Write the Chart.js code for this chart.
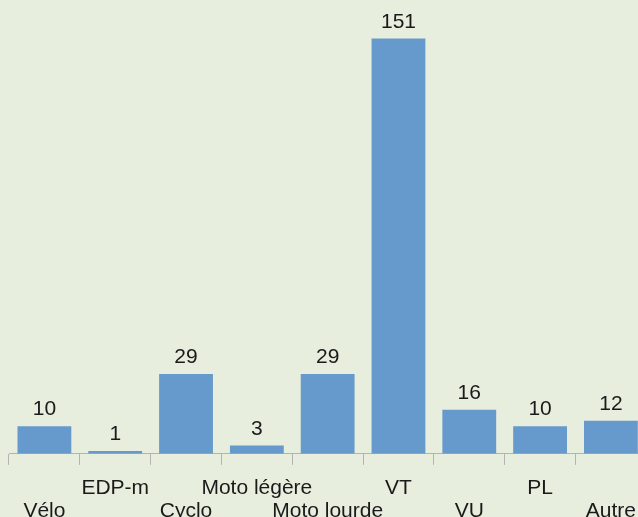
<!DOCTYPE html>
<html>
<head>
<meta charset="utf-8">
<script src="https://cdn.jsdelivr.net/npm/chart.js@4"></script>
<style>
  html, body { margin: 0; padding: 0; overflow: hidden; background: #e8eede; }
  #wrap { position: absolute; left: 0; top: 0; width: 648px; height: 535px; }
</style>
</head>
<body>
<div id="wrap"><canvas id="barChart"></canvas></div>
<script>
const categories = ['Vélo', 'EDP-m', 'Cyclo', 'Moto légère', 'Moto lourde', 'VT', 'VU', 'PL', 'Autre'];
const counts = [10, 1, 29, 3, 29, 151, 16, 10, 12];

// every other label goes on the second line, like the original
const tickLabels = categories.map((c, i) => i % 2 === 0 ? ['', c] : c);

const valueLabels = {
    id: 'valueLabels',
    afterDatasetsDraw(chart) {
        const ctx = chart.ctx;
        const meta = chart.getDatasetMeta(0);
        ctx.save();
        ctx.font = '21px "Liberation Sans", Arial, sans-serif';
        ctx.fillStyle = '#1a1a1a';
        ctx.textAlign = 'center';
        ctx.textBaseline = 'alphabetic';
        meta.data.forEach((bar, i) => {
            ctx.fillText(String(counts[i]), bar.x, bar.y - 11);
        });
        ctx.restore();
    }
};

document.addEventListener('DOMContentLoaded', () => {
    const ctx = document.getElementById('barChart');
    const data = {
        labels: tickLabels,
        datasets: [{
            data: counts,
            backgroundColor: '#6699cc',
            barPercentage: 0.76,
            categoryPercentage: 1
        }]
    };
    const config = {
        type: 'bar',
        data: data,
        plugins: [valueLabels],
        options: {
            responsive: true,
            maintainAspectRatio: false,
            animation: false,
            layout: { padding: { left: 9, right: 0, top: 0, bottom: 0 } },
            plugins: { legend: { display: false }, tooltip: { enabled: false } },
            scales: {
                x: {
                    grid: { drawOnChartArea: false, tickLength: 11, color: '#b3b3b3' },
                    border: { color: '#b3b3b3' },
                    ticks: {
                        maxRotation: 0,
                        autoSkip: false,
                        padding: 12,
                        color: '#1a1a1a',
                        font: { family: '"Liberation Sans", Arial, sans-serif', size: 21, lineHeight: 1.1 }
                    }
                },
                y: { display: false, min: 0, max: 165 }
            }
        }
    };
    new Chart(ctx, config);
});
</script>
</body>
</html>
